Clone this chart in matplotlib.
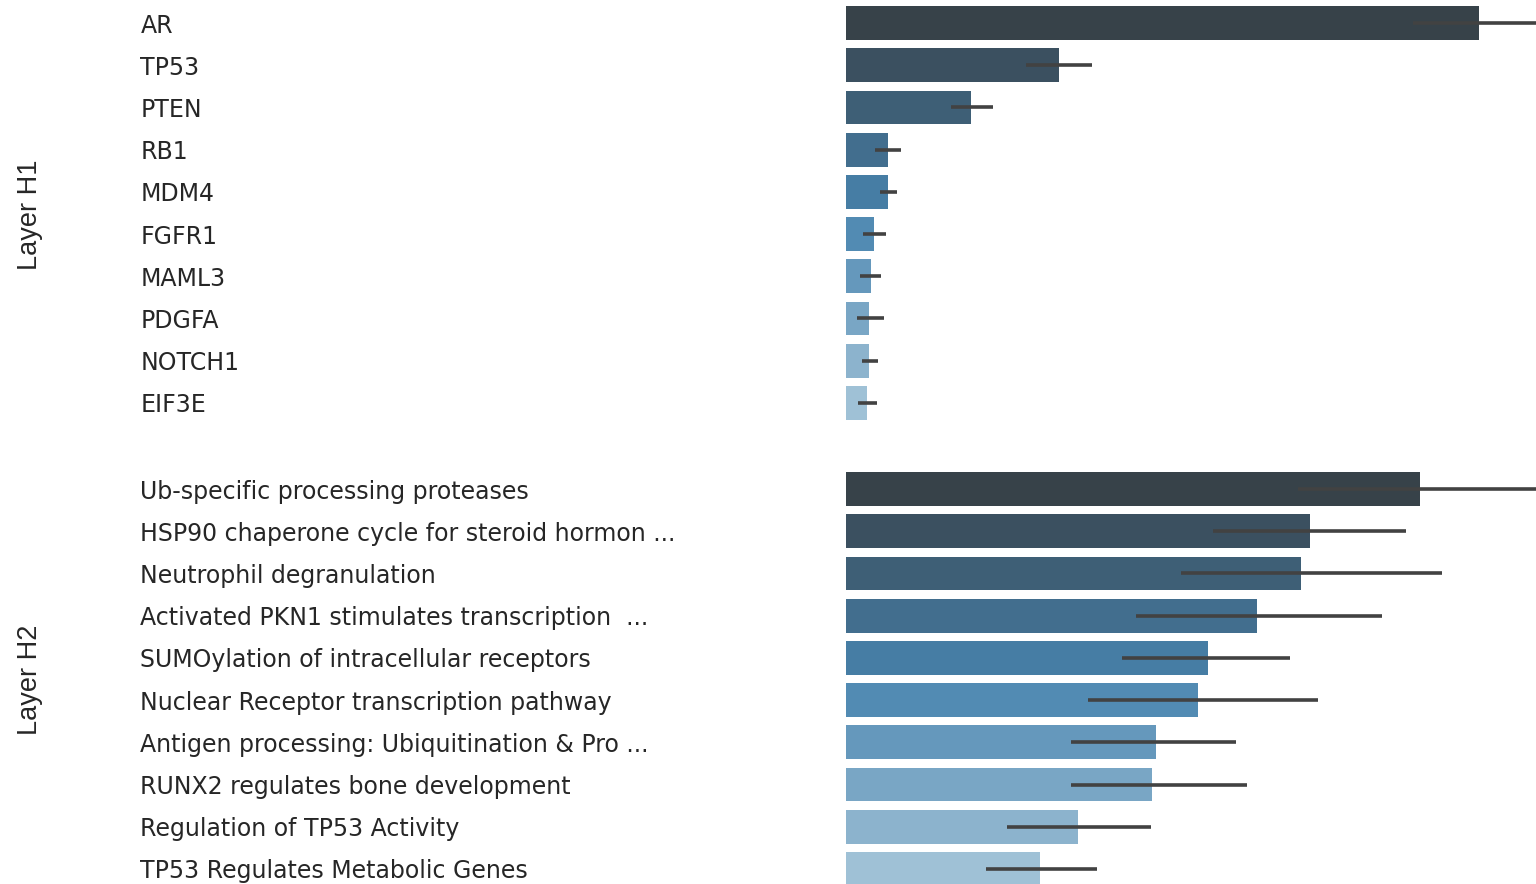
import matplotlib
matplotlib.use("Agg")
import matplotlib.pyplot as plt
import seaborn as sns
import numpy as np

h1_labels = ["AR", "TP53", "PTEN", "RB1", "MDM4", "FGFR1", "MAML3", "PDGFA", "NOTCH1", "EIF3E"]
h1_values = [1.000, 0.336, 0.197, 0.066, 0.066, 0.044, 0.039, 0.036, 0.036, 0.033]
h1_low = [0.896, 0.284, 0.166, 0.046, 0.054, 0.027, 0.022, 0.017, 0.025, 0.019]
h1_high = [1.120, 0.389, 0.232, 0.087, 0.081, 0.063, 0.055, 0.060, 0.051, 0.049]

h2_labels = ["Ub-specific processing proteases",
             "HSP90 chaperone cycle for steroid hormon ...",
             "Neutrophil degranulation",
             "Activated PKN1 stimulates transcription  ...",
             "SUMOylation of intracellular receptors",
             "Nuclear Receptor transcription pathway",
             "Antigen processing: Ubiquitination & Pro ...",
             "RUNX2 regulates bone development",
             "Regulation of TP53 Activity",
             "TP53 Regulates Metabolic Genes"]
h2_values = [1.000, 0.808, 0.793, 0.716, 0.631, 0.613, 0.540, 0.533, 0.404, 0.338]
h2_low = [0.787, 0.639, 0.584, 0.505, 0.481, 0.422, 0.392, 0.392, 0.280, 0.244]
h2_high = [1.250, 0.976, 1.038, 0.934, 0.774, 0.822, 0.679, 0.699, 0.531, 0.437]

layer_names = ["Layer H1", "Layer H2"]

pal = sns.color_palette("Blues_d", 10)[::-1]
pal = [sns.desaturate(c, 0.75) for c in pal]

fig = plt.figure(figsize=(15.36, 8.84), dpi=100)
W, H = 1536.0, 884.0
left = 846 / W
width = 690 / W
ax1 = fig.add_axes([left, (H - 424) / H, width, 422 / H])
ax2 = fig.add_axes([left, (H - 890) / H, width, 422 / H])

def draw(ax, labels, vals, lo, hi, xmax):
    y = np.arange(len(labels))
    vals = np.array(vals)
    xerr = np.vstack([vals - np.array(lo), np.array(hi) - vals])
    ax.barh(y, vals, height=0.8, color=pal, edgecolor="none")
    ax.errorbar(vals, y, xerr=xerr, fmt="none", ecolor="#424242", elinewidth=2.6, capsize=0)
    ax.set_ylim(len(labels) - 0.5, -0.5)
    ax.set_xlim(0, xmax)
    ax.set_yticks(y)
    ax.set_yticklabels(labels, ha="left", fontsize=17, color="#262626")
    ax.tick_params(axis="y", length=0, pad=508)
    ax.set_xticks([])
    for s in ax.spines.values():
        s.set_visible(False)

draw(ax1, h1_labels, h1_values, h1_low, h1_high, 690 / 633)
draw(ax2, h2_labels, h2_values, h2_low, h2_high, 690 / 574)

fig.text(30 / W, 1 - 215 / H, layer_names[0], rotation=90, ha="center", va="center",
         fontsize=19.5, family="Liberation Sans", color="#262626")
fig.text(30 / W, 1 - 680 / H, layer_names[1], rotation=90, ha="center", va="center",
         fontsize=19.5, family="Liberation Sans", color="#262626")

fig.savefig("out.png", dpi=100)
